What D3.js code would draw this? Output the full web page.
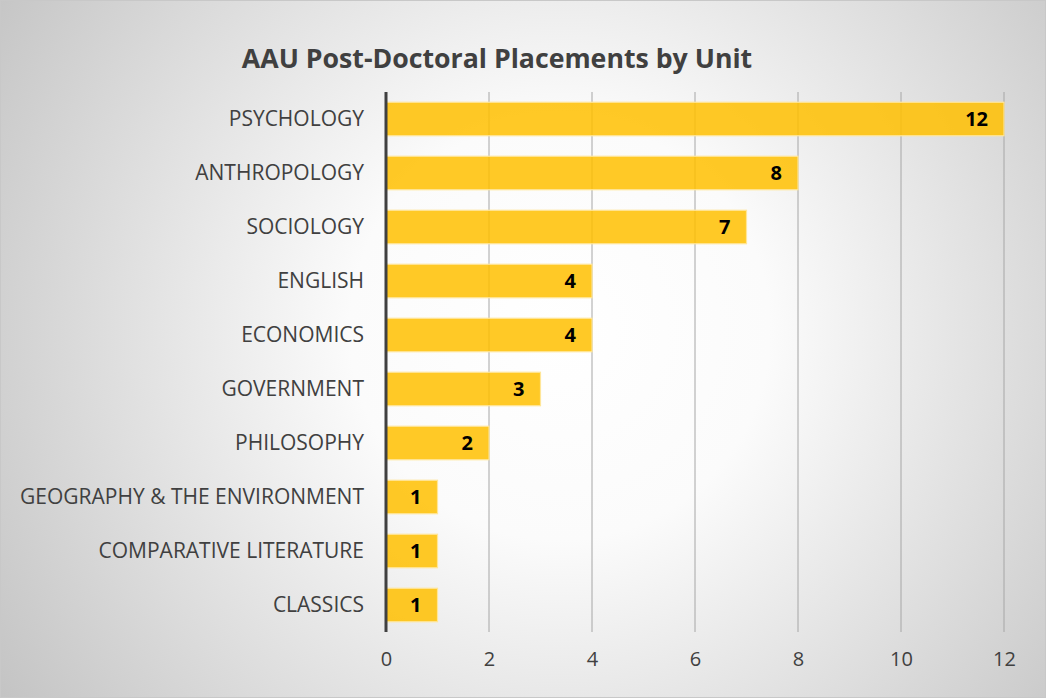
<!DOCTYPE html>
<html>
<head>
<meta charset="utf-8">
<script src="https://cdn.jsdelivr.net/npm/d3@7"></script>
<style>
  html, body { margin: 0; padding: 0; }
  body { width: 1046px; height: 698px; overflow: hidden; }
  svg { display: block; font-family: "Open Sans", "Noto Sans", sans-serif; }
</style>
</head>
<body>
<div id="chart"></div>
<script>
var units = ["PSYCHOLOGY", "ANTHROPOLOGY", "SOCIOLOGY", "ENGLISH", "ECONOMICS",
             "GOVERNMENT", "PHILOSOPHY", "GEOGRAPHY & THE ENVIRONMENT",
             "COMPARATIVE LITERATURE", "CLASSICS"];
var placements = [12, 8, 7, 4, 4, 3, 2, 1, 1, 1];
var xTicks = [0, 2, 4, 6, 8, 10, 12];

var W = 1046, H = 698;
var margin = {top: 92, right: 42, bottom: 66, left: 386},
    width = W - margin.left - margin.right,
    height = H - margin.top - margin.bottom;

var data = units.map(function(u, i) { return {unit: u, value: placements[i]}; });

var svg = d3.select("#chart").append("svg")
    .attr("width", W)
    .attr("height", H);

var defs = svg.append("defs");
var grad = defs.append("radialGradient")
    .attr("id", "bg")
    .attr("gradientUnits", "userSpaceOnUse")
    .attr("cx", 560).attr("cy", 330).attr("r", 700);
grad.append("stop").attr("offset", "0").attr("stop-color", "#ffffff");
grad.append("stop").attr("offset", "0.3").attr("stop-color", "#fbfbfb");
grad.append("stop").attr("offset", "1").attr("stop-color", "#c0c0c0");

svg.append("rect")
    .attr("x", 0.5).attr("y", 0.5)
    .attr("width", W - 1).attr("height", H - 1)
    .attr("fill", "url(#bg)")
    .attr("stroke", "#c8c8c8");

svg.append("text")
    .attr("x", 497)
    .attr("y", 68)
    .attr("text-anchor", "middle")
    .style("font-size", "26.7px")
    .style("font-weight", "bold")
    .style("fill", "#404040")
    .text("AAU Post-Doctoral Placements by Unit");

var g = svg.append("g")
    .attr("transform", "translate(" + margin.left + "," + margin.top + ")");

var x = d3.scaleLinear().domain([0, 12]).range([0, width]);
var y = d3.scaleBand().domain(units).range([0, height]).paddingInner(0.38).paddingOuter(0.19);

// gridlines
g.selectAll(".grid")
    .data(xTicks.slice(1))
  .enter().append("line")
    .attr("class", "grid")
    .attr("x1", function(d) { return x(d); })
    .attr("x2", function(d) { return x(d); })
    .attr("y1", 0)
    .attr("y2", height)
    .style("stroke", "#a6a6a6")
    .style("stroke-width", 1);

// bars
g.selectAll(".bar")
    .data(data)
  .enter().append("rect")
    .attr("class", "bar")
    .attr("x", x(0))
    .attr("y", function(d) { return y(d.unit); })
    .attr("width", function(d) { return x(d.value) - x(0); })
    .attr("height", y.bandwidth())
    .style("fill", "#ffc000")
    .style("fill-opacity", 0.85)
    .style("stroke", "#ffe699")
    .style("stroke-width", 1.2);

// value labels
g.selectAll(".val")
    .data(data)
  .enter().append("text")
    .attr("class", "val")
    .attr("x", function(d) { return x(d.value) - 16; })
    .attr("y", function(d) { return y(d.unit) + y.bandwidth() / 2; })
    .attr("dy", ".36em")
    .attr("text-anchor", "end")
    .style("font-size", "20px")
    .style("font-weight", "bold")
    .style("fill", "#000")
    .text(function(d) { return d.value; });

// category axis
var yAxis = d3.axisLeft(y).tickSize(0).tickPadding(22);
var ya = g.append("g").call(yAxis);
ya.select(".domain").remove();
ya.selectAll("text")
    .style("font-size", "21px")
    .style("fill", "#404040")
    .style("font-family", "'Open Sans', sans-serif");

g.append("line")
    .attr("x1", x(0)).attr("x2", x(0))
    .attr("y1", 0).attr("y2", height)
    .style("stroke", "#404040")
    .style("stroke-width", 3);

// value axis
var xAxis = d3.axisBottom(x).tickValues(xTicks).tickSize(0).tickPadding(20);
var xa = g.append("g")
    .attr("transform", "translate(0," + height + ")")
    .call(xAxis);
xa.select(".domain").remove();
xa.selectAll("text")
    .style("font-size", "20px")
    .style("fill", "#404040")
    .style("font-family", "'Open Sans', sans-serif");
</script>
</body>
</html>
